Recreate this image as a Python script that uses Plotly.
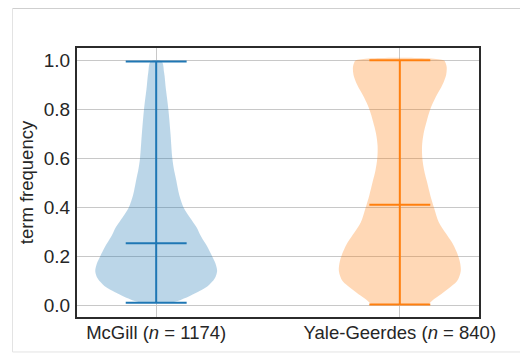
import plotly.graph_objects as go

# ---- data ----
categories = ["McGill", "Yale-Geerdes"]
counts = [1174, 840]
positions = [1, 2]

# violin profiles: term-frequency value and relative half-width (1 = widest)
mcgill_y = [0.011, 0.025, 0.04, 0.06, 0.08, 0.11, 0.14, 0.17, 0.20, 0.24, 0.28,
            0.32, 0.36, 0.40, 0.45, 0.51, 0.55, 0.60, 0.70, 0.80, 0.88, 0.95, 0.995]
mcgill_w = [0.25, 0.42, 0.56, 0.72, 0.85, 0.96, 1.0, 0.975, 0.92, 0.84, 0.74,
            0.66, 0.55, 0.45, 0.38, 0.33, 0.295, 0.265, 0.235, 0.20, 0.16, 0.13, 0.09]
yale_y = [0.004, 0.02, 0.04, 0.07, 0.10, 0.14, 0.18, 0.22, 0.26, 0.30, 0.34,
          0.40, 0.45, 0.50, 0.55, 0.60, 0.65, 0.70, 0.75, 0.80, 0.85, 0.90, 0.94,
          0.97, 0.99, 1.0]
yale_w = [0.47, 0.53, 0.64, 0.80, 0.94, 1.0, 0.985, 0.93, 0.85, 0.74, 0.64,
          0.56, 0.50, 0.45, 0.40, 0.37, 0.365, 0.39, 0.44, 0.50, 0.59, 0.70, 0.76,
          0.77, 0.75, 0.72]
mins = [0.011, 0.004]
maxs = [0.995, 1.0]
means = [0.254, 0.411]

y_ticks = [0.0, 0.2, 0.4, 0.6, 0.8, 1.0]
y_ticklabels = ["0.0", "0.2", "0.4", "0.6", "0.8", "1.0"]

# ---- styling ----
line_colors = ["#1f77b4", "#ff7f0e"]
fill_colors = ["rgba(31,119,180,0.3)", "rgba(255,127,14,0.3)"]
half_width = 0.25
cap_half = 0.125
font_family = "Liberation Sans, Arial, sans-serif"
text_color = "#262626"

profiles = [(mcgill_y, mcgill_w), (yale_y, yale_w)]

fig = go.Figure()
for i, (ys, ws) in enumerate(profiles):
    c = positions[i]
    xr = [c + half_width * w for w in ws]
    xl = [c - half_width * w for w in ws[::-1]]
    fig.add_trace(go.Scatter(
        x=xr + xl, y=ys + ys[::-1], mode="lines", fill="toself",
        fillcolor=fill_colors[i], line=dict(width=0, shape="spline", smoothing=0.9),
        hoverinfo="skip", showlegend=False))
    # vertical extent line
    fig.add_trace(go.Scatter(x=[c, c], y=[mins[i], maxs[i]], mode="lines",
                             line=dict(color=line_colors[i], width=2),
                             showlegend=False, hoverinfo="skip"))
    for v in (mins[i], maxs[i], means[i]):
        fig.add_trace(go.Scatter(x=[c - cap_half, c + cap_half], y=[v, v], mode="lines",
                                 line=dict(color=line_colors[i], width=2),
                                 showlegend=False, hoverinfo="skip"))

x_ticktext = [f"{name} (<i>n</i> = {n})" for name, n in zip(categories, counts)]

fig.update_layout(
    width=520, height=348,
    margin=dict(l=69, r=49, t=40, b=39),
    paper_bgcolor="white", plot_bgcolor="white",
    font=dict(family=font_family, size=18, color=text_color),
    xaxis=dict(range=[0.675, 2.325], tickvals=positions, ticktext=x_ticktext,
               showgrid=True, gridcolor="#c8c8c8", gridwidth=1.2, zeroline=False,
               showline=True, mirror=True, linecolor="#2b2b2b", linewidth=2,
               ticks="", ticklabelstandoff=-2, tickfont=dict(size=18.5),
               automargin=False),
    yaxis=dict(range=[-0.0466, 1.0496], tickvals=y_ticks, ticktext=y_ticklabels,
               showgrid=True, gridcolor="#c8c8c8", gridwidth=1.2, zeroline=False,
               showline=True, mirror=True, linecolor="#2b2b2b", linewidth=2,
               ticks="", ticklabelstandoff=1, tickfont=dict(size=19),
               title=dict(text="term frequency", font=dict(size=18.5), standoff=5),
               automargin=False),
    shapes=[
        dict(type="line", xref="paper", yref="paper", x0=-0.1604, x1=1.2, y0=1.1468, y1=1.1468,
             line=dict(color="#cfcfcf", width=1)),
        dict(type="line", xref="paper", yref="paper", x0=-0.1604, x1=-0.1604, y0=1.1468, y1=-0.13,
             line=dict(color="#e3e3e3", width=1)),
        dict(type="line", xref="paper", yref="paper", x0=-0.1604, x1=1.2, y0=-0.13, y1=-0.13,
             line=dict(color="#e3e3e3", width=1)),
    ],
)

fig.write_html("out.html")
